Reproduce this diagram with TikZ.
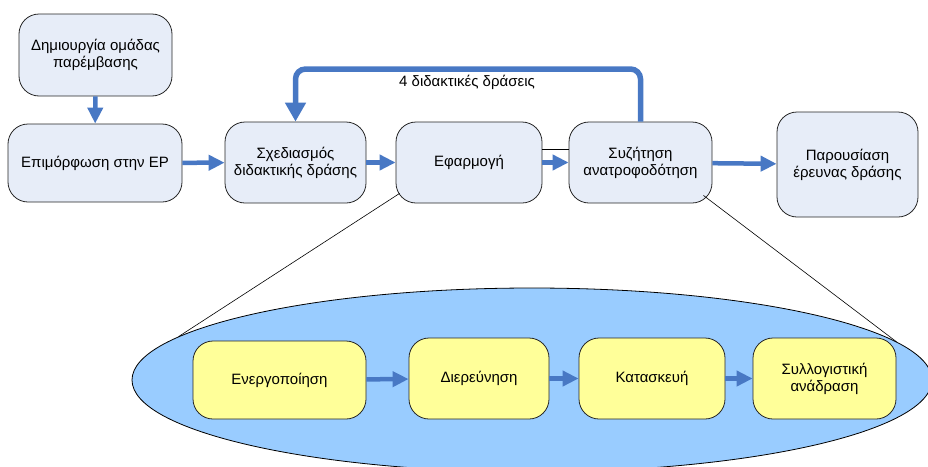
\documentclass[tikz,border=0pt]{standalone}
\usepackage{fontspec}
\setmainfont{Liberation Sans}
\usetikzlibrary{arrows.meta,shapes.geometric,calc}
\definecolor{stepFillColor}{RGB}{231,237,248}
\definecolor{phaseFillColor}{RGB}{255,255,153}
\definecolor{cycleFillColor}{RGB}{153,204,255}
\definecolor{flowArrowColor}{RGB}{72,120,196}

\begin{document}
\begin{tikzpicture}[
        x=1pt, y=-1pt,
        stepbox/.style={
                draw=black!85,
                line width=0.8pt,
                rounded corners=20pt,
                fill=stepFillColor,
                font=\fontsize{15}{17}\selectfont,
                align=center,
                inner sep=0pt
            },
        phasebox/.style={
                stepbox,
                fill=phaseFillColor
            },
        flow/.style={draw=flowArrowColor, line width=4.5pt, -{Triangle[length=16pt,width=15pt]}},
        loopback/.style={draw=flowArrowColor, line width=5.5pt, rounded corners=10pt,
                -{Triangle[length=19pt,width=20pt]}},
        zoomline/.style={draw=black, line width=0.6pt}
    ]
    \clip (0,0) rectangle (928,466);

    % ---- Cycle of one action (drawn first, behind) ----
    \node[ellipse, draw=black, line width=0.8pt, fill=cycleFillColor, inner sep=0pt,
        minimum width=800pt, minimum height=184pt] (cycle) at (532,380) {};

    % ---- Main steps ----
    \node[stepbox, minimum width=153pt, minimum height=82pt] (team) at (95.5,55)
    {Δημιουργία ομάδας\\παρέμβασης};
    \node[stepbox, minimum width=174pt, minimum height=78pt] (train) at (95,163)
    {Επιμόρφωση στην ΕΡ};
    \node[stepbox, minimum width=141pt, minimum height=81pt] (plan) at (295.5,162.5)
    {Σχεδιασμός\\διδακτικής δράσης};
    \node[stepbox, minimum width=146pt, minimum height=81pt] (impl) at (469,162.5)
    {Εφαρμογή};
    \node[stepbox, minimum width=143pt, minimum height=81pt] (disc) at (640.5,162.5)
    {Συζήτηση\\ανατροφοδότηση};
    \node[stepbox, minimum width=141pt, minimum height=105pt] (pres) at (847.5,164.5)
    {Παρουσίαση\\έρευνας δράσης};

    % ---- Phases inside the cycle ----
    \node[phasebox, minimum width=173pt, minimum height=78pt] (engage) at (279.5,380)
    {Ενεργοποίηση};
    \node[phasebox, minimum width=140pt, minimum height=81pt] (explore) at (479,378.5)
    {Διερεύνηση};
    \node[phasebox, minimum width=146pt, minimum height=81pt] (build) at (652,378.5)
    {Κατασκευή};
    \node[phasebox, minimum width=143pt, minimum height=81pt] (reflect) at (824.5,378.5)
    {Συλλογιστική\\ανάδραση};

    % ---- Flow arrows ----
    \draw[flow] (team) -- (train);
    \draw[flow] (train) -- (plan);
    \draw[flow] (plan) -- (impl);
    \draw[flow] (impl) -- (disc);
    \draw[flow] (disc) -- (pres);
    \draw[flow] (engage) -- (explore);
    \draw[flow] (explore) -- (build);
    \draw[flow] (build) -- (reflect);

    % thin link above the arrow
    \draw[zoomline] ($(impl.east)+(0,-13)$) -- ($(disc.west)+(0,-13)$);

    % ---- Loop back to planning ----
    \draw[loopback] (disc.north) -- (disc.north |- 0,69) -| (plan.north);
    \node[font=\fontsize{15}{17}\selectfont] (times) at (467,82) {4 διδακτικές δράσεις};

    % ---- Lines from Εφαρμογή/Συζήτηση out to the cycle ----
    \coordinate (implCorner) at ($(impl.south west)+(4,-10)$);
    \coordinate (discCorner) at ($(disc.south east)+(-9,-8)$);
    \draw[zoomline] (implCorner) -- (cycle.173);
    \draw[zoomline] (discCorner) -- (cycle.6);
\end{tikzpicture}
\end{document}
